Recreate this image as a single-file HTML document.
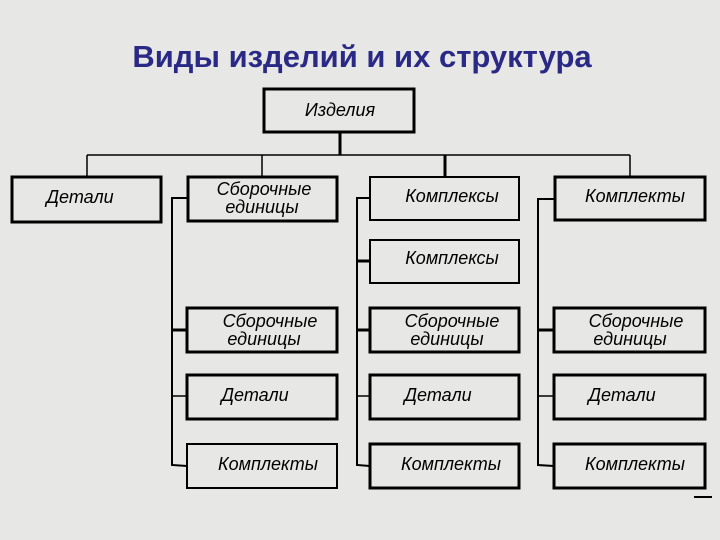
<!DOCTYPE html>
<html><head><meta charset="utf-8"><style>
html,body{margin:0;padding:0;background:#e7e7e5;}
svg{display:block}
.t{font-family:"Liberation Sans",sans-serif;font-style:italic;font-size:18px;fill:#000;}
</style></head><body>
<svg width="720" height="540" viewBox="0 0 720 540" xmlns="http://www.w3.org/2000/svg">
<rect width="720" height="540" fill="#e7e7e5"/>
<text x="362" y="67" text-anchor="middle" font-family="Liberation Sans, sans-serif" font-weight="bold" font-size="31" fill="#2a2a86">Виды изделий и их структура</text>
<g fill="none" stroke="#000">
<rect x="264" y="89" width="150" height="43" stroke-width="3"/>
<line x1="340" y1="132" x2="340" y2="155" stroke-width="3"/>
<line x1="87" y1="155" x2="630" y2="155" stroke-width="1.5"/>
<line x1="87" y1="155" x2="87" y2="176" stroke-width="1.5"/>
<line x1="262" y1="155" x2="262" y2="176" stroke-width="1.5"/>
<line x1="445" y1="155" x2="445" y2="176" stroke-width="3"/>
<line x1="630" y1="155" x2="630" y2="176" stroke-width="1.5"/>
<rect x="12" y="177" width="149" height="45" stroke-width="3"/>
<rect x="188" y="177" width="149" height="44" stroke-width="3"/>
<rect x="370" y="177" width="149" height="43" stroke-width="2"/>
<rect x="555" y="177" width="150" height="43" stroke-width="3"/>
<rect x="370" y="240" width="149" height="43" stroke-width="2"/>
<rect x="187" y="308" width="150" height="44" stroke-width="3"/>
<rect x="187" y="375" width="150" height="44" stroke-width="3"/>
<rect x="187" y="444" width="150" height="44" stroke-width="2"/>
<rect x="370" y="308" width="149" height="44" stroke-width="3"/>
<rect x="370" y="375" width="149" height="44" stroke-width="3"/>
<rect x="370" y="444" width="149" height="44" stroke-width="3"/>
<rect x="554" y="308" width="151" height="44" stroke-width="3"/>
<rect x="554" y="375" width="151" height="44" stroke-width="3"/>
<rect x="554" y="444" width="151" height="44" stroke-width="3"/>
<polyline points="188,198 172,198 172,465 187,466" stroke-width="2"/>
<line x1="172" y1="330" x2="187" y2="330" stroke-width="3"/>
<line x1="172" y1="396" x2="187" y2="396" stroke-width="1.5"/>
<polyline points="370,198 357,198 357,465 370,466" stroke-width="2"/>
<line x1="357" y1="261" x2="370" y2="261" stroke-width="3"/>
<line x1="357" y1="330" x2="370" y2="330" stroke-width="3"/>
<line x1="357" y1="396" x2="370" y2="396" stroke-width="1.5"/>
<polyline points="555,199 538,199 538,465 554,466" stroke-width="2"/>
<line x1="538" y1="330" x2="554" y2="330" stroke-width="3"/>
<line x1="538" y1="396" x2="554" y2="396" stroke-width="1.5"/>
<line x1="694" y1="497" x2="712" y2="497" stroke-width="2"/>
</g>
<g class="t">
<text x="340" y="116" text-anchor="middle">Изделия</text>
<text x="80" y="203" text-anchor="middle">Детали</text>
<text x="264" y="195" text-anchor="middle">Сборочные</text>
<text x="262" y="213" text-anchor="middle">единицы</text>
<text x="452" y="202" text-anchor="middle">Комплексы</text>
<text x="635" y="202" text-anchor="middle">Комплекты</text>
<text x="452" y="264" text-anchor="middle">Комплексы</text>
<text x="270" y="327" text-anchor="middle">Сборочные</text>
<text x="264" y="345" text-anchor="middle">единицы</text>
<text x="255" y="401" text-anchor="middle">Детали</text>
<text x="268" y="470" text-anchor="middle">Комплекты</text>
<text x="452" y="327" text-anchor="middle">Сборочные</text>
<text x="447" y="345" text-anchor="middle">единицы</text>
<text x="438" y="401" text-anchor="middle">Детали</text>
<text x="451" y="470" text-anchor="middle">Комплекты</text>
<text x="636" y="327" text-anchor="middle">Сборочные</text>
<text x="630" y="345" text-anchor="middle">единицы</text>
<text x="622" y="401" text-anchor="middle">Детали</text>
<text x="635" y="470" text-anchor="middle">Комплекты</text>
</g>
</svg>
</body></html>
